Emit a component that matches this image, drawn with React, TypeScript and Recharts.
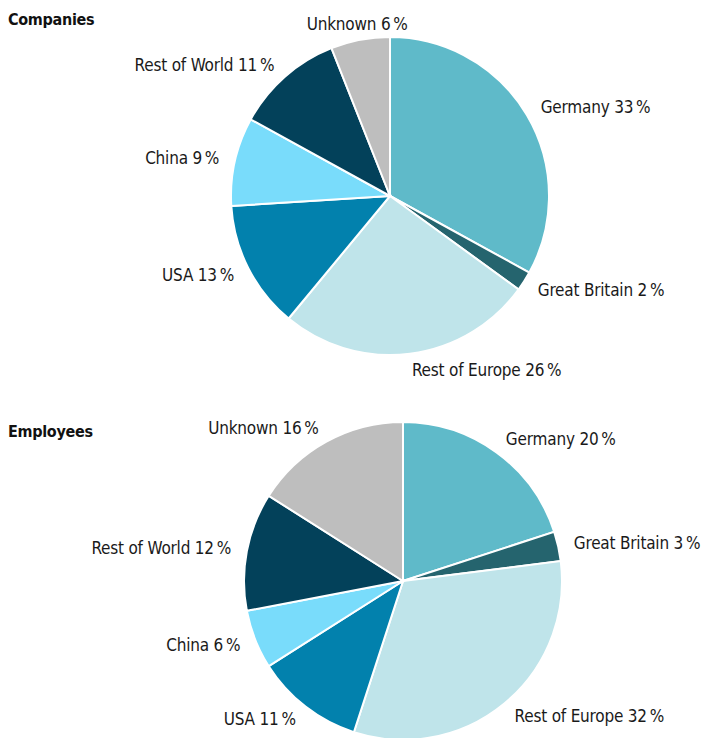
import { PieChart, Pie, Cell } from 'recharts';

const regions = ['Germany', 'Great Britain', 'Rest of Europe', 'USA', 'China', 'Rest of World', 'Unknown'];
const companyShares = [33, 2, 26, 13, 9, 11, 6];
const employeeShares = [20, 3, 32, 11, 6, 12, 16];
const regionColors = ['#5fbac9', '#25646e', '#bfe4ea', '#0281ad', '#79dcfb', '#03415a', '#bebebe'];

const FONT = "'Liberation Sans Narrow', 'DejaVu Sans Condensed', 'Arial Narrow', sans-serif";
const RADIAN = Math.PI / 180;

const toRows = (shares: number[]) => regions.map((name, i) => ({ name, value: shares[i] }));

const renderLabel = (props: any) => {
  const { cx, cy, midAngle, outerRadius, name, value } = props;
  const r = outerRadius + 16;
  const cos = Math.cos(-midAngle * RADIAN);
  const sin = Math.sin(-midAngle * RADIAN);
  const x = cx + r * cos;
  const y = cy + r * sin;
  let anchor: 'start' | 'end' | 'middle' = cos >= 0 ? 'start' : 'end';
  if (Math.abs(cos) < 0.3 && sin < 0) anchor = 'middle';
  return (
    <text
      x={x}
      y={y}
      fill="#1a1a1a"
      fontSize={17}
      letterSpacing={-0.2}
      fontFamily={FONT}
      textAnchor={anchor}
      dominantBaseline="central"
    >
      {`${name} ${value}\u2009%`}
    </text>
  );
};

function RegionPie({ title, shares, height, cx, cy }: { title: string; shares: number[]; height: number; cx: number; cy: number }) {
  return (
    <div style={{ position: 'relative', width: 706, height }}>
      <div style={{ position: 'absolute', left: 8, top: 10, fontFamily: FONT, fontWeight: 'bold', fontSize: 16, letterSpacing: -0.3, color: '#111' }}>
        {title}
      </div>
      <PieChart width={706} height={height} margin={{ top: 0, right: 0, bottom: 0, left: 0 }}>
        <Pie
          data={toRows(shares)}
          dataKey="value"
          nameKey="name"
          cx={cx}
          cy={cy}
          outerRadius={159}
          startAngle={90}
          endAngle={-270}
          stroke="#ffffff"
          strokeWidth={2}
          label={renderLabel}
          labelLine={false}
          isAnimationActive={false}
        >
          {shares.map((_, i) => (
            <Cell key={regions[i]} fill={regionColors[i]} />
          ))}
        </Pie>
      </PieChart>
    </div>
  );
}

export default function App() {
  return (
    <div style={{ position: 'absolute', left: 0, top: 0, width: 706, height: 738, background: '#fff', overflow: 'hidden' }}>
      <RegionPie title="Companies" shares={companyShares} height={412} cx={390} cy={196} />
      <RegionPie title="Employees" shares={employeeShares} height={326} cx={403} cy={169} />
    </div>
  );
}
